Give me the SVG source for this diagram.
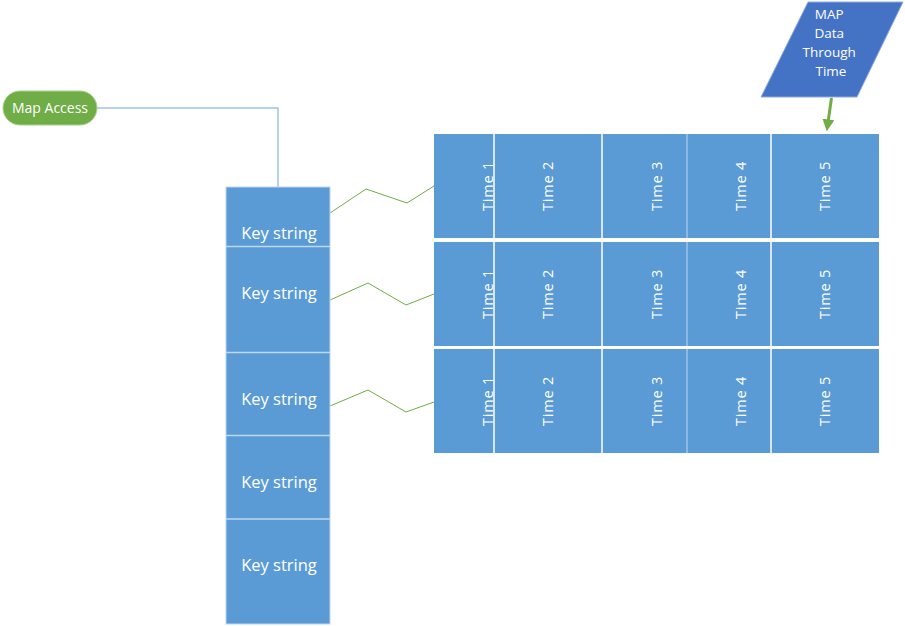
<svg xmlns="http://www.w3.org/2000/svg" width="905" height="626" viewBox="0 0 905 626">
<defs>
<style>
.cell{fill:#5B9BD5;stroke:#BDD7EE;stroke-width:1}
.txt{font-family:"Open Sans","Noto Sans","Liberation Sans",sans-serif;fill:#ffffff}
.key{font-size:16.5px;text-anchor:middle}
.time{font-size:14.5px;text-anchor:middle;letter-spacing:0.8px}
.zig{fill:none;stroke:#70AD47;stroke-width:1}
.sep{stroke:#ffffff;stroke-width:1.5}
</style>
<marker id="ah" markerWidth="4" markerHeight="4" refX="2.2" refY="2" orient="auto" markerUnits="strokeWidth">
<path d="M0,0 L4,2 L0,4 Z" fill="#70AD47"/>
</marker>
</defs>
<rect width="905" height="626" fill="#ffffff"/>

<g id="connectors">
<polyline points="97,108 278,108 278,187" fill="none" stroke="#9DC3E6" stroke-width="1.5"/>
<polyline class="zig" points="330,213 366,189 407,203 434,186"/>
<polyline class="zig" points="330,300 368,283 406,305 434,294"/>
<polyline class="zig" points="330,406 368,390 406,412 434,402"/>
<line x1="831.5" y1="98" x2="827.5" y2="126" stroke="#70AD47" stroke-width="3" marker-end="url(#ah)"/>
</g>

<g id="map-access">
<rect x="3" y="91" width="94" height="34" rx="17" ry="17" fill="#70AD47" stroke="#A9D18E" stroke-width="1"/>
<text class="txt" x="50" y="113" font-size="14" text-anchor="middle">Map Access</text>
</g>

<g id="map-data">
<polygon points="808,2 903,2 857,97 761,97" fill="#4472C4" stroke="#8FAADC" stroke-width="1"/>
<text class="txt" font-size="13.5" text-anchor="middle">
<tspan x="831" y="19">MAP</tspan>
<tspan x="831" y="38">Data</tspan>
<tspan x="831" y="57">Through</tspan>
<tspan x="831" y="76">Time</tspan>
</text>
</g>

<g id="key-column">
<rect class="cell" x="226" y="187" width="104" height="437" stroke="none"/>
<line x1="226" y1="246.5" x2="330" y2="246.5" stroke="#BDD7EE" stroke-width="1.5"/>
<line x1="226" y1="352.5" x2="330" y2="352.5" stroke="#BDD7EE" stroke-width="1.5"/>
<line x1="226" y1="435.5" x2="330" y2="435.5" stroke="#BDD7EE" stroke-width="1.5"/>
<line x1="226" y1="519" x2="330" y2="519" stroke="#BDD7EE" stroke-width="1.5"/>
</g>
<g id="key1"><text class="txt key" x="279" y="239">Key string</text></g>
<g id="key2"><text class="txt key" x="279" y="299">Key string</text></g>
<g id="key3"><text class="txt key" x="279" y="405">Key string</text></g>
<g id="key4"><text class="txt key" x="279" y="488">Key string</text></g>
<g id="key5"><text class="txt key" x="279" y="571">Key string</text></g>

<g id="row1">
<rect x="434" y="134" width="445" height="104" fill="#5B9BD5"/>
<line class="sep" x1="494" y1="134" x2="494" y2="238"/>
<line class="sep" x1="602" y1="134" x2="602" y2="238"/>
<line x1="687" y1="134" x2="687" y2="238" stroke="#9DC3E6" stroke-width="1.5"/>
<line class="sep" x1="771" y1="134" x2="771" y2="238"/>
<text class="txt time" transform="translate(493,186) rotate(-90)">Time 1</text>
<text class="txt time" transform="translate(553,186) rotate(-90)">Time 2</text>
<text class="txt time" transform="translate(662,186) rotate(-90)">Time 3</text>
<text class="txt time" transform="translate(746,186) rotate(-90)">Time 4</text>
<text class="txt time" transform="translate(830,186) rotate(-90)">Time 5</text>
</g>

<g id="row2">
<rect x="434" y="242" width="445" height="104" fill="#5B9BD5"/>
<line class="sep" x1="494" y1="242" x2="494" y2="346"/>
<line class="sep" x1="602" y1="242" x2="602" y2="346"/>
<line x1="687" y1="242" x2="687" y2="346" stroke="#9DC3E6" stroke-width="1.5"/>
<line class="sep" x1="771" y1="242" x2="771" y2="346"/>
<text class="txt time" transform="translate(493,294) rotate(-90)">Time 1</text>
<text class="txt time" transform="translate(553,294) rotate(-90)">Time 2</text>
<text class="txt time" transform="translate(662,294) rotate(-90)">Time 3</text>
<text class="txt time" transform="translate(746,294) rotate(-90)">Time 4</text>
<text class="txt time" transform="translate(830,294) rotate(-90)">Time 5</text>
</g>

<g id="row3">
<rect x="434" y="349" width="445" height="104" fill="#5B9BD5"/>
<line class="sep" x1="494" y1="349" x2="494" y2="453"/>
<line class="sep" x1="602" y1="349" x2="602" y2="453"/>
<line x1="687" y1="349" x2="687" y2="453" stroke="#9DC3E6" stroke-width="1.5"/>
<line class="sep" x1="771" y1="349" x2="771" y2="453"/>
<text class="txt time" transform="translate(493,401) rotate(-90)">Time 1</text>
<text class="txt time" transform="translate(553,401) rotate(-90)">Time 2</text>
<text class="txt time" transform="translate(662,401) rotate(-90)">Time 3</text>
<text class="txt time" transform="translate(746,401) rotate(-90)">Time 4</text>
<text class="txt time" transform="translate(830,401) rotate(-90)">Time 5</text>
</g>
</svg>
